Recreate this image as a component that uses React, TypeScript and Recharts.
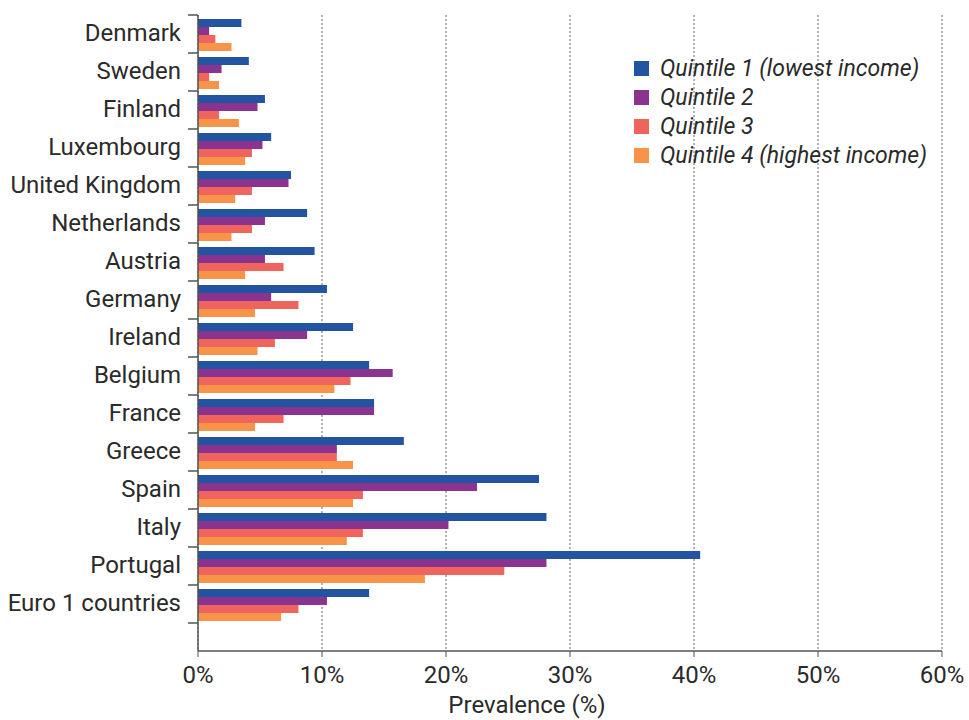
import { BarChart, Bar, XAxis, YAxis, CartesianGrid, Legend, Label } from 'recharts';

const countries = [
  'Denmark', 'Sweden', 'Finland', 'Luxembourg', 'United Kingdom', 'Netherlands', 'Austria', 'Germany',
  'Ireland', 'Belgium', 'France', 'Greece', 'Spain', 'Italy', 'Portugal', 'Euro 1 countries',
];
const quintile1 = [3.5, 4.1, 5.4, 5.9, 7.5, 8.8, 9.4, 10.4, 12.5, 13.8, 14.2, 16.6, 27.5, 28.1, 40.5, 13.8];
const quintile2 = [0.9, 1.9, 4.8, 5.2, 7.3, 5.4, 5.4, 5.9, 8.8, 15.7, 14.2, 11.2, 22.5, 20.2, 28.1, 10.4];
const quintile3 = [1.4, 0.9, 1.7, 4.35, 4.35, 4.35, 6.9, 8.1, 6.2, 12.3, 6.9, 11.2, 13.3, 13.3, 24.7, 8.1];
const quintile4 = [2.7, 1.7, 3.3, 3.8, 3.0, 2.7, 3.8, 4.6, 4.8, 11.0, 4.6, 12.5, 12.5, 12.0, 18.3, 6.7];
const xTicks = [0, 10, 20, 30, 40, 50, 60];

const data = countries.map((country, i) => ({
  country,
  q1: quintile1[i],
  q2: quintile2[i],
  q3: quintile3[i],
  q4: quintile4[i],
}));

const FONT = 'Roboto, sans-serif';
const AXIS = '#555';

function YTick(props: any) {
  const { x, y, payload, index } = props;
  const half = payload?.offset || 19;
  return (
    <g>
      <text x={x} y={y - 1} textAnchor="end" dominantBaseline="central" fontFamily={FONT} fontSize={24} fill="#2a2a2a">
        {payload.value}
      </text>
      <line x1={x + 7} x2={x + 17} y1={y + half} y2={y + half} stroke={AXIS} strokeWidth={1.5} />
      {index === 0 && (
        <line x1={x + 7} x2={x + 17} y1={y - half} y2={y - half} stroke={AXIS} strokeWidth={1.5} />
      )}
    </g>
  );
}

function LegendBox(props: any) {
  const { payload } = props;
  return (
    <div style={{ fontFamily: FONT, fontStyle: 'italic', fontSize: 23, color: '#2a2a2a' }}>
      {payload.map((e: any) => (
        <div key={e.value} style={{ display: 'flex', alignItems: 'center', height: 29 }}>
          <span style={{ display: 'inline-block', width: 15, height: 15, background: e.color, marginRight: 11 }} />
          {e.value}
        </div>
      ))}
    </div>
  );
}

export default function App() {
  return (
    <div style={{ position: 'absolute', left: 0, top: 0, background: '#fff' }}>
      <BarChart
        layout="vertical"
        width={969}
        height={720}
        data={data}
        margin={{ top: 15, right: 27, bottom: 0, left: 0 }}
        barCategoryGap={4}
        barGap={0}
      >
        <CartesianGrid horizontal={false} stroke="#666" strokeDasharray="2 2" />
        <XAxis
          type="number"
          domain={[0, 60]}
          ticks={xTicks}
          tickFormatter={(v) => `${v}%`}
          height={69}
          tickLine={{ stroke: AXIS, strokeWidth: 1 }}
          tickSize={6}
          tickMargin={9}
          axisLine={{ stroke: AXIS, strokeWidth: 1.5 }}
          tick={{ fontFamily: FONT, fontSize: 24, fill: '#2a2a2a' }}
        >
          <Label
            value="Prevalence (%)"
            position="insideBottom"
            offset={7}
            dx={-43}
            style={{ fontFamily: FONT, fontSize: 24, fill: '#2a2a2a' }}
          />
        </XAxis>
        <XAxis
          xAxisId="top"
          orientation="top"
          type="number"
          domain={[0, 60]}
          height={0}
          tick={false}
          tickLine={false}
          axisLine={{ stroke: AXIS, strokeWidth: 1.5 }}
        />
        <YAxis
          type="category"
          dataKey="country"
          width={198}
          interval={0}
          padding={{ top: 0, bottom: 28 }}
          tickLine={false}
          tickSize={10}
          tickMargin={7}
          axisLine={{ stroke: AXIS, strokeWidth: 1.5 }}
          tick={<YTick />}
        />
        <YAxis
          yAxisId="right"
          orientation="right"
          type="category"
          dataKey="country"
          width={0}
          tick={false}
          tickLine={false}
          axisLine={{ stroke: AXIS, strokeWidth: 1.5 }}
        />
        <Legend
          layout="vertical"
          align="center"
          verticalAlign="middle"
          content={<LegendBox />}
          wrapperStyle={{ top: 54, left: 634, width: 330 }}
        />
        <Bar dataKey="q1" name="Quintile 1 (lowest income)" fill="#2254A2" isAnimationActive={false} />
        <Bar dataKey="q2" name="Quintile 2" fill="#8A348F" isAnimationActive={false} />
        <Bar dataKey="q3" name="Quintile 3" fill="#EF645D" isAnimationActive={false} />
        <Bar dataKey="q4" name="Quintile 4 (highest income)" fill="#F7944A" isAnimationActive={false} />
      </BarChart>
    </div>
  );
}
